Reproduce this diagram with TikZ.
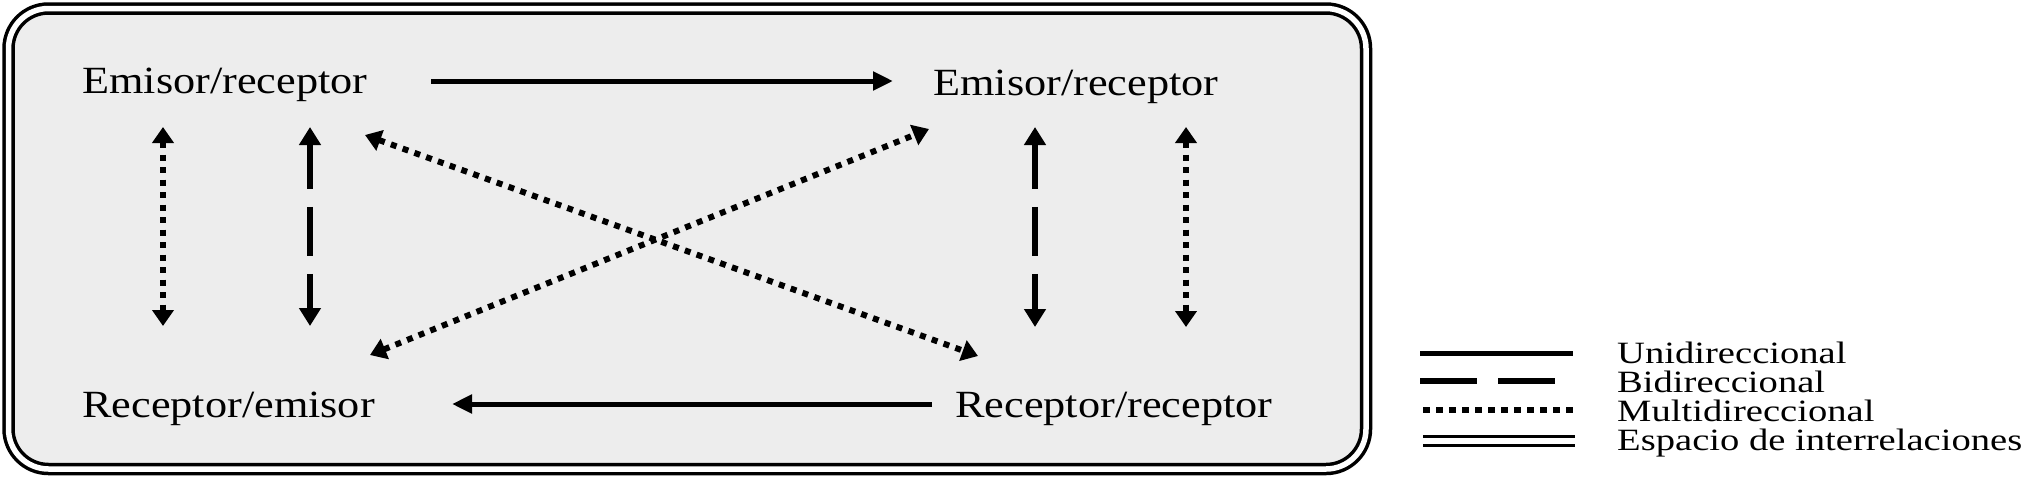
\documentclass[tikz,border=0pt]{standalone}
\usepackage{fontspec}
\setmainfont{Liberation Serif}
\usetikzlibrary{arrows.meta}
\definecolor{boxgray}{RGB}{237,237,237}
\newcommand{\wide}[1]{\scalebox{1.15}[1]{#1}}
\newcommand{\wider}[1]{\scalebox{1.245}[1]{#1}}
\tikzset{
  lbl/.style={anchor=base west, inner sep=0pt, font=\fontsize{38.5}{46}\selectfont},
  leg/.style={anchor=base west, inner sep=0pt, font=\fontsize{31}{36}\selectfont},
  tipA/.tip={Triangle[length=20pt,width=18pt]},
  tipB/.tip={Triangle[length=18pt,width=21pt]},
  tipC/.tip={Triangle[length=16pt,width=21pt]},
  uni/.style={line width=5pt, -tipA},
  bid/.style={line width=6pt, tipB-tipB, dash pattern=on 49pt off 18pt, dash phase=4pt},
  mul/.style={line width=6pt, tipC-tipC, dash pattern=on 6pt off 6.5pt},
  frame/.style={line width=3.5pt, double=white, double distance=5.5pt},
}
\begin{document}
\begin{tikzpicture}[x=1pt,y=-1pt]
\fill[white] (0,0) rectangle (2036,477);
\useasboundingbox (0,0) rectangle (2036,477);
% space of interrelations
\draw[frame, rounded corners=40pt, fill=boxgray] (8.5,8.5) rectangle (1366,469);
% labels
\node[lbl] (er1) at (82,93) {\wide{Emisor/receptor}};
\node[lbl] (er2) at (933,95) {\wide{Emisor/receptor}};
\node[lbl] (re) at (82,417) {\wide{Receptor/emisor}};
\node[lbl] (rr) at (955,417) {\wide{Receptor/receptor}};
% connector ends
\coordinate (h1a) at (431,81);  \coordinate (h1b) at (893,81);
\coordinate (h2a) at (932,404); \coordinate (h2b) at (452,404);
\coordinate (v1a) at (163,127); \coordinate (v1b) at (163,326);
\coordinate (v2a) at (310,127); \coordinate (v2b) at (310,326);
\coordinate (v3a) at (1035,127); \coordinate (v3b) at (1035,327);
\coordinate (v4a) at (1186,127); \coordinate (v4b) at (1186,327);
\coordinate (d1a) at (365,135); \coordinate (d1b) at (978,356);
\coordinate (d2a) at (370,355); \coordinate (d2b) at (929,129);
% connectors
\draw[uni] (h1a) -- (h1b);
\draw[uni] (h2a) -- (h2b);
\draw[mul] (v1a) -- (v1b);
\draw[bid] (v2a) -- (v2b);
\draw[bid] (v3a) -- (v3b);
\draw[mul] (v4a) -- (v4b);
\draw[mul] (d1a) -- (d1b);
\draw[mul] (d2a) -- (d2b);
% legend
\coordinate (l1a) at (1420,353); \coordinate (l1b) at (1573,353);
\coordinate (l2a) at (1420,381); \coordinate (l2b) at (1555,381);
\coordinate (l3a) at (1423,410); \coordinate (l3b) at (1576,410);
\coordinate (l4a) at (1423,441); \coordinate (l4b) at (1575,441);
\draw[line width=5pt] (l1a) -- (l1b);
\draw[line width=6pt, dash pattern=on 57pt off 21pt] (l2a) -- (l2b);
\draw[line width=6pt, dash pattern=on 7pt off 6pt] (l3a) -- (l3b);
\draw[line width=3pt, double=white, double distance=6pt] (l4a) -- (l4b);
\node[leg] (t1) at (1617,363) {\wider{Unidireccional}};
\node[leg] (t2) at (1617,392) {\wider{Bidireccional}};
\node[leg] (t3) at (1617,421) {\wider{Multidireccional}};
\node[leg] (t4) at (1617,450) {\wider{Espacio de interrelaciones}};
\end{tikzpicture}
\end{document}
